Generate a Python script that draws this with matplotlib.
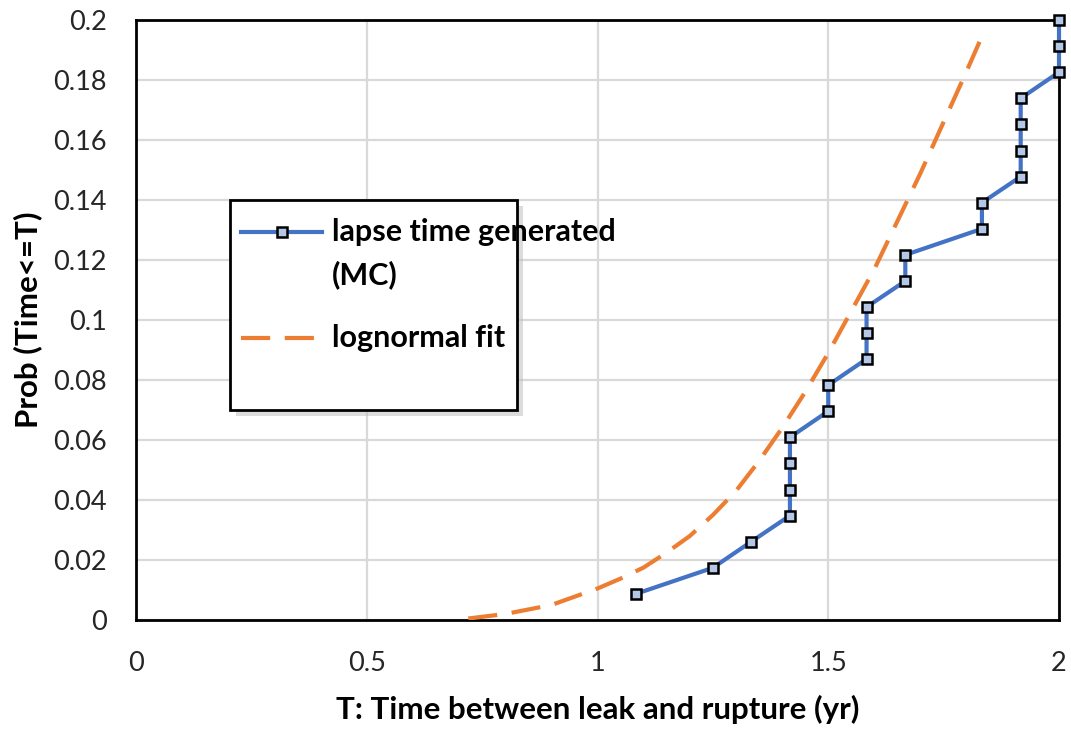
import matplotlib
matplotlib.use('Agg')
import matplotlib.pyplot as plt
from matplotlib.lines import Line2D
from matplotlib.patches import Rectangle
import numpy as np

#===============================================================================#
# data                                                       #
#===============================================================================#

# Monte Carlo lapse times (yr) and cumulative probability
mc_time = [1.083, 1.25, 1.333, 1.417, 1.417, 1.417, 1.417, 1.5, 1.5,
           1.583, 1.583, 1.583, 1.667, 1.667, 1.833, 1.833,
           1.917, 1.917, 1.917, 1.917, 2.0, 2.0, 2.0]
mc_prob = [0.0087, 0.0174, 0.0261, 0.0348, 0.0435, 0.0522, 0.0609, 0.0696, 0.0783,
           0.0870, 0.0957, 0.1043, 0.1130, 0.1217, 0.1304, 0.1391,
           0.1478, 0.1565, 0.1652, 0.1739, 0.1826, 0.1913, 0.2000]

# lognormal fit curve
fit_time = [0.72, 0.80, 0.90, 1.00, 1.05, 1.10, 1.15, 1.20, 1.25, 1.30, 1.35, 1.40,
            1.45, 1.50, 1.55, 1.60, 1.65, 1.70, 1.75, 1.80, 1.84]
fit_prob = [0.0005, 0.002, 0.005, 0.0105, 0.0138, 0.0175, 0.0225, 0.028, 0.035, 0.043,
            0.053, 0.064, 0.076, 0.089, 0.103, 0.117, 0.133, 0.149, 0.166, 0.183, 0.197]

xticks = [0, 0.5, 1, 1.5, 2]
yticks = [0, 0.02, 0.04, 0.06, 0.08, 0.1, 0.12, 0.14, 0.16, 0.18, 0.2]

blue = '#4472C4'
orange = '#ED7D31'
font = ['Lato', 'DejaVu Sans']

#===============================================================================#
# plot                                                                          #
#===============================================================================#

plt.rcParams['font.family'] = font

fig = plt.figure( figsize=(10.71, 7.30), dpi=100 )
ax = fig.add_axes( [136/1071, 110/730, 923/1071, 600/730] )

ax.plot( fit_time, fit_prob, color=orange, lw=3, dashes=(7, 3.5), zorder=3 )
ax.plot( mc_time, mc_prob, color=blue, lw=3, marker='s', markersize=7,
         markerfacecolor='#B4C7E7', markeredgecolor='black', markeredgewidth=1.8,
         clip_on=False, zorder=4 )

ax.set_xlim( 0, 2 )
ax.set_ylim( 0, 0.2 )
ax.set_xticks( xticks )
ax.set_yticks( yticks )
ax.set_xticklabels( [f"{v:g}" for v in xticks] )
ax.set_yticklabels( [f"{v:g}" for v in yticks] )
ax.tick_params( length=0, labelsize=19.5, colors='#262626' )
ax.tick_params( axis='x', pad=22 )
ax.tick_params( axis='y', pad=21 )
ax.grid( True, color='#D9D9D9', lw=1.6 )
ax.set_axisbelow( True )
for s in ax.spines.values():
    s.set_linewidth( 2 )
    s.set_color( 'black' )

ax.set_xlabel( "T: Time between leak and rupture (yr)", fontsize=22.5, fontweight='bold', labelpad=14 )
ax.set_ylabel( "Prob (Time<=T)", fontsize=22.5, fontweight='bold', labelpad=8 )

# legend drawn by hand -------------------------------------------------------#

x0, y0, w, h = 0.102, 0.35, 0.311, 0.35
ax.add_patch( Rectangle( (x0+0.006, y0-0.01), w, h, transform=ax.transAxes,
                         facecolor='#BBBBBB', edgecolor='none', alpha=0.5, zorder=5 ) )
ax.add_patch( Rectangle( (x0, y0), w, h, transform=ax.transAxes,
                         facecolor='white', edgecolor='black', lw=2, zorder=6 ) )
ax.add_line( Line2D( [0.114, 0.202], [0.647, 0.647], transform=ax.transAxes,
                     color=blue, lw=3, zorder=7 ) )
ax.add_line( Line2D( [0.158], [0.647], transform=ax.transAxes, marker='s', markersize=7,
                     markerfacecolor='#B4C7E7', markeredgecolor='black',
                     markeredgewidth=1.8, zorder=8 ) )
ax.add_line( Line2D( [0.114, 0.202], [0.47, 0.47], transform=ax.transAxes,
                     color=orange, lw=3, dashes=(7, 3.5), zorder=7 ) )
ax.text( 0.212, 0.647, "lapse time generated", transform=ax.transAxes, fontsize=22,
         fontweight='bold', va='center', ha='left', zorder=8 )
ax.text( 0.212, 0.575, "(MC)", transform=ax.transAxes, fontsize=22,
         fontweight='bold', va='center', ha='left', zorder=8 )
ax.text( 0.212, 0.47, "lognormal fit", transform=ax.transAxes, fontsize=22,
         fontweight='bold', va='center', ha='left', zorder=8 )

fig.savefig( 'out.png', dpi=100 )
plt.close( fig )
